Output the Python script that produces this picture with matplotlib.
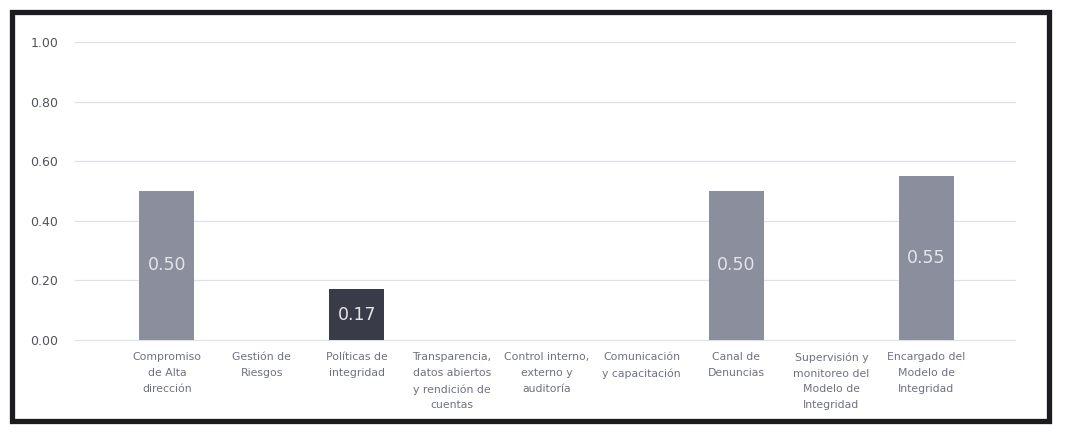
import matplotlib.pyplot as plt
from matplotlib.patches import Rectangle

categorias = [
    "Compromiso\nde Alta\ndirección",
    "Gestión de\nRiesgos",
    "Políticas de\nintegridad",
    "Transparencia,\ndatos abiertos\ny rendición de\ncuentas",
    "Control interno,\nexterno y\nauditoría",
    "Comunicación\ny capacitación",
    "Canal de\nDenuncias",
    "Supervisión y\nmonitoreo del\nModelo de\nIntegridad",
    "Encargado del\nModelo de\nIntegridad",
]
valores = [0.50, 0, 0.17, 0, 0, 0, 0.50, 0, 0.55]
colores = ["#8b8e9d", "#8b8e9d", "#393c48", "#8b8e9d", "#8b8e9d",
           "#8b8e9d", "#8b8e9d", "#8b8e9d", "#8b8e9d"]
marcas_y = [0.0, 0.2, 0.4, 0.6, 0.8, 1.0]

fig = plt.figure(figsize=(10.68, 4.32), dpi=100)
ax = fig.add_axes([0.070, 0.213, 0.880, 0.690])

x = list(range(len(categorias)))
barras = ax.bar(x, valores, width=0.58, color=colores, zorder=2)
for b, v in zip(barras, valores):
    if v > 0:
        ax.text(b.get_x() + b.get_width() / 2, v / 2, f"{v:.2f}",
                ha="center", va="center", color="#e4e5ea", fontsize=12.5, zorder=3)

ax.set_xlim(-0.97, 8.93)
ax.set_ylim(0, 1.0)
ax.set_yticks(marcas_y)
ax.set_yticklabels([f"{t:.2f}" for t in marcas_y], color="#50535c", fontsize=9)
ax.set_xticks(x)
ax.set_xticklabels(categorias, color="#6e7183", fontsize=7.8, linespacing=1.7)
ax.tick_params(length=0, axis="y", pad=12)
ax.tick_params(length=0, axis="x", pad=9)
for y in marcas_y:
    ax.axhline(y, color="#dfe2ec", lw=0.9, zorder=1, clip_on=False)
for s in ax.spines.values():
    s.set_visible(False)

# marco negro del escaneo
fig.add_artist(Rectangle((12 / 1068, 1 - 421 / 432), 1037 / 1068, 409 / 432,
                         transform=fig.transFigure, fill=False,
                         edgecolor="#1c1c20", lw=3.8))

fig.savefig("out.png", dpi=100)
